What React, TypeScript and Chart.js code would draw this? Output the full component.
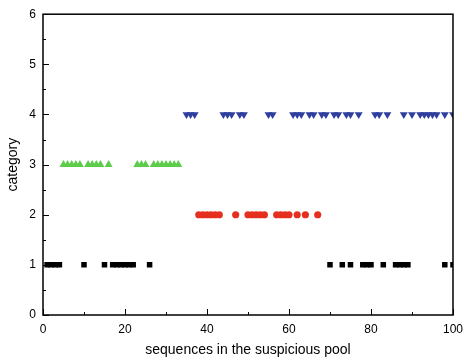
import React, { useEffect, useRef } from "react";
import { Chart, registerables } from "chart.js";

Chart.register(...registerables);

const catOneX = [1, 2, 3, 4, 10, 15, 17, 18, 19, 20, 21, 22, 26, 70, 73, 75, 78, 79, 80, 83, 86, 87, 88, 89, 98, 100];
const catTwoX = [38, 39, 40, 41, 42, 43, 47, 50, 51, 52, 53, 54, 57, 58, 59, 60, 62, 64, 67];
const catThreeX = [5, 6, 7, 8, 9, 11, 12, 13, 14, 16, 23, 24, 25, 27, 28, 29, 30, 31, 32, 33];
const catFourX = [35, 36, 37, 44, 45, 46, 48, 49, 55, 56, 61, 62, 63, 65, 66, 68, 69, 71, 72, 74, 75, 77, 81, 82, 84, 88, 90, 92, 93, 94, 95, 96, 98, 100];

const xTickValues = [0, 20, 40, 60, 80, 100];
const yTickValues = [0, 1, 2, 3, 4, 5, 6];

const FONT = "'Liberation Sans', Arial, sans-serif";

const framePlugin = {
  id: "frame",
  afterDraw(chart: any) {
    const { ctx, chartArea, scales } = chart;
    const { left, right, top, bottom } = chartArea;
    ctx.save();
    ctx.strokeStyle = "#000";
    ctx.lineWidth = 1.5;
    ctx.strokeRect(left, top, right - left, bottom - top);
    ctx.lineWidth = 1;
    ctx.beginPath();
    for (let v = 0; v <= 100; v += 10) {
      const px = Math.round(scales.x.getPixelForValue(v)) + 0.5;
      const len = v % 20 === 0 ? 6 : 3;
      ctx.moveTo(px, bottom);
      ctx.lineTo(px, bottom - len);
    }
    for (let v = 0; v <= 6; v += 0.5) {
      const py = Math.round(scales.y.getPixelForValue(v)) + 0.5;
      const len = v % 1 === 0 ? 6 : 3;
      ctx.moveTo(left, py);
      ctx.lineTo(left + len, py);
    }
    ctx.stroke();
    ctx.restore();
  },
};

function pts(xs: number[], y: number) {
  return xs.map((x) => ({ x, y }));
}

export default function App() {
  const ref = useRef<HTMLCanvasElement>(null);
  useEffect(() => {
    document.body.style.margin = "0";
    const chart = new Chart(ref.current as HTMLCanvasElement, {
      type: "scatter",
      data: {
        datasets: [
          {
            data: pts(catOneX, 1),
            pointStyle: "rect",
            pointRadius: 3.9,
            backgroundColor: "#000000",
            borderWidth: 0,
          },
          {
            data: pts(catTwoX, 2),
            pointStyle: "circle",
            pointRadius: 3.6,
            backgroundColor: "#e6301f",
            borderWidth: 0,
          },
          {
            data: pts(catThreeX, 3),
            pointStyle: "triangle",
            pointRadius: 4.6,
            backgroundColor: "#5dcc4b",
            borderWidth: 0,
          },
          {
            data: pts(catFourX, 4),
            pointStyle: "triangle",
            rotation: 180,
            pointRadius: 4.6,
            backgroundColor: "#2f3f9e",
            borderWidth: 0,
          },
        ] as any,
      },
      options: {
        responsive: false,
        animation: false,
        layout: { padding: { top: 7, right: 12, left: 0, bottom: 0 } },
        plugins: { legend: { display: false }, tooltip: { enabled: false } },
        scales: {
          x: {
            type: "linear",
            min: 0,
            max: 100,
            afterBuildTicks: (s: any) => {
              s.ticks = xTickValues.map((value) => ({ value }));
            },
            afterFit: (s: any) => {
              s.height = 48;
            },
            grid: { display: false, drawTicks: false },
            border: { display: false },
            ticks: { color: "#000", font: { family: FONT, size: 12 }, padding: 7, maxRotation: 0 },
            title: {
              display: true,
              text: "sequences in the suspicious pool",
              color: "#000",
              font: { family: FONT, size: 14 },
              padding: { top: 0, bottom: 4 },
            },
          },
          y: {
            type: "linear",
            min: 0,
            max: 6,
            afterBuildTicks: (s: any) => {
              s.ticks = yTickValues.map((value) => ({ value }));
            },
            afterFit: (s: any) => {
              s.width = 43;
            },
            grid: { display: false, drawTicks: false },
            border: { display: false },
            ticks: { color: "#000", font: { family: FONT, size: 12 }, padding: 7 },
            title: {
              display: true,
              text: "category",
              color: "#000",
              font: { family: FONT, size: 14 },
              padding: { top: 5, bottom: 0 },
            },
          },
        },
      } as any,
      plugins: [framePlugin],
    });
    return () => chart.destroy();
  }, []);
  return (
    <div style={{ width: 470, height: 363 }}>
      <canvas ref={ref} width={470} height={363} />
    </div>
  );
}
